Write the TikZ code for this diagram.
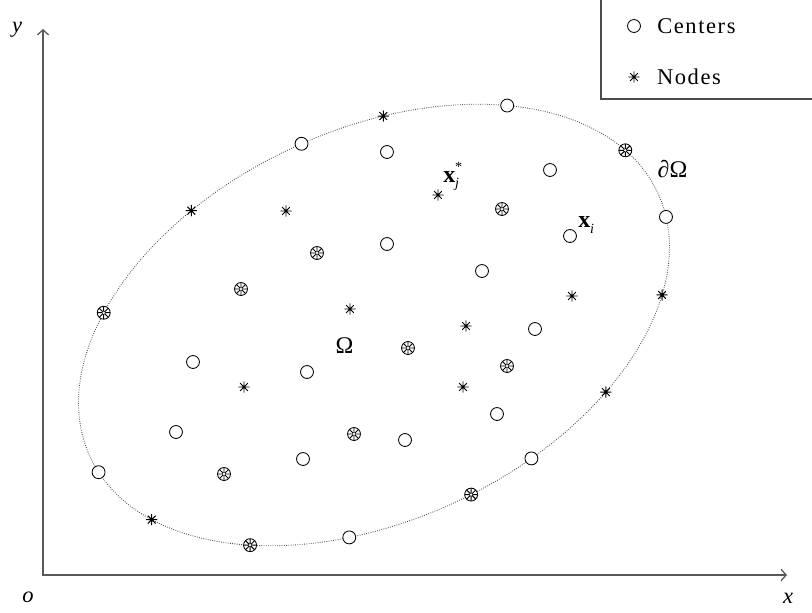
\documentclass[tikz,border=0pt]{standalone}
\usepackage{fontspec}
\setmainfont{Liberation Serif}
\usetikzlibrary{arrows.meta,positioning}

\begin{document}
\begin{tikzpicture}[x=0.025cm,y=-0.025cm,
  >={Straight Barb[length=3.6pt,width=8pt]},
  axis/.style={line width=0.9pt,black!65},
  centermark/.style={circle,draw,fill=white,line width=0.6pt,
    minimum size=9.2pt,inner sep=0pt},
  nodemark/.style={circle,minimum size=8pt,inner sep=0pt,
    path picture={
      \draw[line width=0.7pt] foreach \a in {0,45,90,135}
        {(path picture bounding box.center) +(\a:6pt) -- +(\a+180:6pt)};
      \fill (path picture bounding box.center) circle (1pt);}},
  bothmark/.style={nodemark,draw,fill=white,line width=0.6pt,minimum size=9.2pt},
  lbl/.style={inner sep=0pt,font=\fontsize{16}{19}\selectfont}]
  \useasboundingbox (0,0) rectangle (812,613);

  % axes
  \coordinate (o) at (43,575);
  \coordinate (xtip) at (787,575);
  \coordinate (ytip) at (43,29);
  \draw[axis,<->] (ytip) -- (o) -- (xtip);
  \node[lbl] (ylab) at (17,30) {\textit{y}};
  \node[lbl] (olab) at (28,597) {\textit{o}};
  \node[lbl] (xlab) at (788,598) {\textit{x}};

  % boundary, with the points that lie on it
  \begin{scope}[shift={(374,325)},rotate=25]
    \draw[densely dotted,black!70,line width=0.6pt]
      (0,0) ellipse [x radius=313,y radius=195];
    \foreach \t [count=\i] in {-47,-88,7.5,74,175,111}
      \node[centermark] (ec\i) at (\t:313 and 195) {};
    \foreach \t [count=\i] in {-72,-112,29,54.5,155}
      \node[nodemark] (en\i) at (\t:313 and 195) {};
    \foreach \t [count=\i] in {-15.5,-140,87,131}
      \node[bothmark] (eb\i) at (\t:313 and 195) {};
  \end{scope}

  % inner centers
  \foreach \px/\py [count=\i] in {387/152,550/170,570/236,387/244,482/271,
      535/329,193/362,307/372,497/414,176/432,405/440,303/459}
    \node[centermark] (c\i) at (\px,\py) {};
  % inner nodes
  \foreach \px/\py [count=\i] in {286/211,438/195,572/296,350/309,466/326,
      244/387,463/387}
    \node[nodemark] (n\i) at (\px,\py) {};
  % inner points that are both
  \foreach \px/\py [count=\i] in {502/209,317/253,241/289,408/348,507/366,
      354/434,224/474}
    \node[bothmark] (b\i) at (\px,\py) {};

  \node[lbl,font=\fontsize{17}{20}\selectfont] (omega) at (344.5,346) {Ω};
  \node[lbl,font=\fontsize{17}{20}\selectfont] (bdry) at (672.5,168.7)
    {\textit{∂}Ω};
  \node[lbl,anchor=base west,font=\fontsize{17}{20}\selectfont] (xj)
    at (443,182) {\textbf{x}\makebox[0pt][l]{\raisebox{-3.6pt}%
      {\fontsize{10}{12}\selectfont\textit{j}}}\raisebox{7.4pt}%
      {\fontsize{10}{12}\selectfont *}};
  \node[lbl,anchor=base west,font=\fontsize{17}{20}\selectfont] (xi)
    at (578,227) {\textbf{x}\raisebox{-4.3pt}%
      {\fontsize{10}{12}\selectfont\textit{i}}};

  % legend
  \draw[black!70,line width=0.8pt] (601,0) |- (812,99);
  \node[centermark] (lgc) at (634,26) {};
  \node[lbl,right=11.5pt of lgc] (lgctext)
    {\addfontfeature{LetterSpace=7}Centers};
  \node[nodemark] (lgn) at (634,77) {};
  \node[lbl,right=12pt of lgn] (lgntext)
    {\addfontfeature{LetterSpace=7}Nodes};
\end{tikzpicture}
\end{document}
